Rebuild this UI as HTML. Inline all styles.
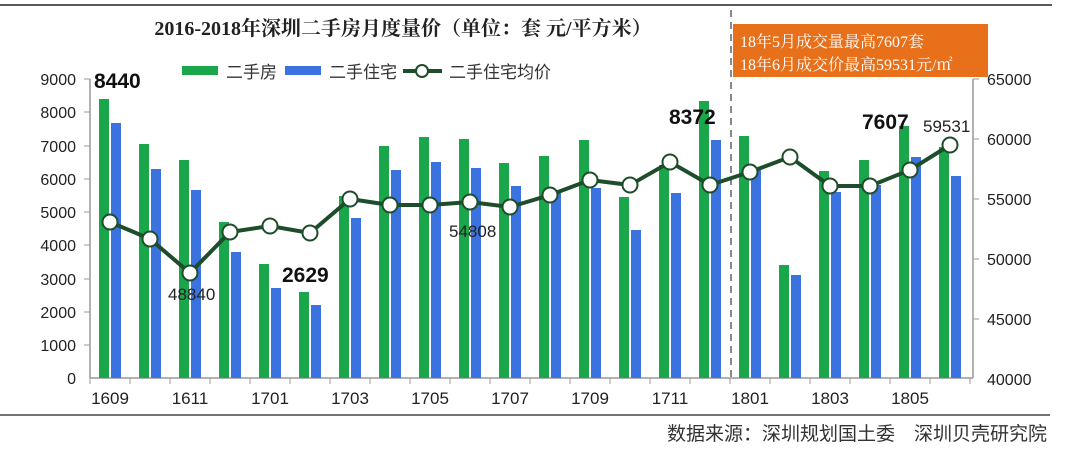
<!DOCTYPE html>
<html><head><meta charset="utf-8"><style>
body{margin:0;background:#fff;}
svg{display:block;font-family:"Liberation Sans","Noto Sans CJK SC",sans-serif;}
</style></head><body>
<svg width="1080" height="454" viewBox="0 0 1080 454" xmlns="http://www.w3.org/2000/svg">
<rect width="1080" height="454" fill="#fff"/>
<line x1="0" y1="5" x2="1052" y2="5" stroke="#222" stroke-width="1.5"/>
<text x="403" y="35" text-anchor="middle" font-family="Liberation Serif,'Noto Serif CJK SC',serif" font-weight="bold" font-size="20" fill="#222">2016-2018年深圳二手房月度量价（单位：套 元/平方米）</text>
<line x1="731" y1="10" x2="731" y2="378" stroke="#888" stroke-width="2" stroke-dasharray="7,5"/>
<rect x="733" y="24" width="255" height="53" fill="#e8701a"/>
<text x="740" y="47" font-family="Liberation Serif,'Noto Serif CJK SC',serif" font-size="16" fill="#fff">18年5月成交量最高7607套</text>
<text x="740" y="70" font-family="Liberation Serif,'Noto Serif CJK SC',serif" font-size="16" fill="#fff">18年6月成交价最高59531元/㎡</text>
<rect x="182" y="66" width="36" height="9" fill="#1aa64a"/>
<text x="226" y="78" font-size="17" fill="#333">二手房</text>
<rect x="285" y="66" width="36" height="9" fill="#3a73e0"/>
<text x="329" y="78" font-size="17" fill="#333">二手住宅</text>
<line x1="403" y1="71" x2="442" y2="71" stroke="#1e4d2b" stroke-width="4"/>
<circle cx="422" cy="71" r="6" fill="#fff" stroke="#1e4d2b" stroke-width="2"/>
<text x="449" y="78" font-size="17" fill="#333">二手住宅均价</text>
<g stroke="#999" stroke-width="1.5">
<line x1="90" y1="79" x2="90" y2="378"/>
<line x1="973" y1="79" x2="973" y2="378"/>
<line x1="90" y1="378" x2="973" y2="378"/>
</g>
<path stroke="#999" stroke-width="1" fill="none" d="M84 79H90M84 112H90M84 146H90M84 179H90M84 212H90M84 245H90M84 279H90M84 312H90M84 345H90M973 79H979M973 139H979M973 199H979M973 259H979M973 319H979M90 378V384M130 378V384M170 378V384M210 378V384M250 378V384M290 378V384M330 378V384M370 378V384M410 378V384M450 378V384M490 378V384M530 378V384M570 378V384M610 378V384M650 378V384M690 378V384M730 378V384M770 378V384M810 378V384M850 378V384M890 378V384M930 378V384M970 378V384"/>
<g font-size="16" fill="#222" text-anchor="end">
<text x="76" y="85">9000</text><text x="76" y="118">8000</text><text x="76" y="152">7000</text><text x="76" y="185">6000</text><text x="76" y="218">5000</text><text x="76" y="251">4000</text><text x="76" y="285">3000</text><text x="76" y="318">2000</text><text x="76" y="351">1000</text><text x="76" y="384">0</text>
</g>
<g font-size="16" fill="#222">
<text x="987" y="85">65000</text><text x="987" y="145">60000</text><text x="987" y="205">55000</text><text x="987" y="265">50000</text><text x="987" y="325">45000</text><text x="987" y="385">40000</text>
</g>
<g fill="#1aa64a">
<rect x="99" y="99" width="10" height="279"/>
<rect x="139" y="144" width="10" height="234"/>
<rect x="179" y="160" width="10" height="218"/>
<rect x="219" y="222" width="10" height="156"/>
<rect x="259" y="264" width="10" height="114"/>
<rect x="299" y="292" width="10" height="86"/>
<rect x="339" y="196" width="10" height="182"/>
<rect x="379" y="146" width="10" height="232"/>
<rect x="419" y="137" width="10" height="241"/>
<rect x="459" y="139" width="10" height="239"/>
<rect x="499" y="163" width="10" height="215"/>
<rect x="539" y="156" width="10" height="222"/>
<rect x="579" y="140" width="10" height="238"/>
<rect x="619" y="197" width="10" height="181"/>
<rect x="659" y="165" width="10" height="213"/>
<rect x="699" y="101" width="10" height="277"/>
<rect x="739" y="136" width="10" height="242"/>
<rect x="779" y="265" width="10" height="113"/>
<rect x="819" y="171" width="10" height="207"/>
<rect x="859" y="160" width="10" height="218"/>
<rect x="899" y="126" width="10" height="252"/>
<rect x="939" y="147" width="10" height="231"/>
</g>
<g fill="#3a73e0">
<rect x="111" y="123" width="10" height="255"/>
<rect x="151" y="169" width="10" height="209"/>
<rect x="191" y="190" width="10" height="188"/>
<rect x="231" y="252" width="10" height="126"/>
<rect x="271" y="288" width="10" height="90"/>
<rect x="311" y="305" width="10" height="73"/>
<rect x="351" y="218" width="10" height="160"/>
<rect x="391" y="170" width="10" height="208"/>
<rect x="431" y="162" width="10" height="216"/>
<rect x="471" y="168" width="10" height="210"/>
<rect x="511" y="186" width="10" height="192"/>
<rect x="551" y="190" width="10" height="188"/>
<rect x="591" y="188" width="10" height="190"/>
<rect x="631" y="230" width="10" height="148"/>
<rect x="671" y="193" width="10" height="185"/>
<rect x="711" y="140" width="10" height="238"/>
<rect x="751" y="170" width="10" height="208"/>
<rect x="791" y="275" width="10" height="103"/>
<rect x="831" y="192" width="10" height="186"/>
<rect x="871" y="185" width="10" height="193"/>
<rect x="911" y="157" width="10" height="221"/>
<rect x="951" y="176" width="10" height="202"/>
</g>
<polyline fill="none" stroke="#1e4d2b" stroke-width="4" points="110,222 150,239 190,273 230,232 270,226 310,233 350,199 390,205 430,205 470,202 510,207 550,195 590,180 630,185 670,162 710,185 750,172 790,157 830,186 870,186 910,170 950,145"/>
<g fill="#fff" stroke="#1e4d2b" stroke-width="2">
<circle cx="110" cy="222" r="7.5"/><circle cx="150" cy="239" r="7.5"/><circle cx="190" cy="273" r="7.5"/><circle cx="230" cy="232" r="7.5"/><circle cx="270" cy="226" r="7.5"/><circle cx="310" cy="233" r="7.5"/><circle cx="350" cy="199" r="7.5"/><circle cx="390" cy="205" r="7.5"/><circle cx="430" cy="205" r="7.5"/><circle cx="470" cy="202" r="7.5"/><circle cx="510" cy="207" r="7.5"/><circle cx="550" cy="195" r="7.5"/><circle cx="590" cy="180" r="7.5"/><circle cx="630" cy="185" r="7.5"/><circle cx="670" cy="162" r="7.5"/><circle cx="710" cy="185" r="7.5"/><circle cx="750" cy="172" r="7.5"/><circle cx="790" cy="157" r="7.5"/><circle cx="830" cy="186" r="7.5"/><circle cx="870" cy="186" r="7.5"/><circle cx="910" cy="170" r="7.5"/><circle cx="950" cy="145" r="7.5"/>
</g>
<g font-size="17" fill="#222" text-anchor="middle">
<text x="110" y="404">1609</text><text x="190" y="404">1611</text><text x="270" y="404">1701</text><text x="350" y="404">1703</text><text x="430" y="404">1705</text><text x="510" y="404">1707</text><text x="590" y="404">1709</text><text x="670" y="404">1711</text><text x="750" y="404">1801</text><text x="830" y="404">1803</text><text x="910" y="404">1805</text>
</g>
<g font-size="21" font-weight="bold" fill="#111">
<text x="94" y="88">8440</text><text x="282" y="282">2629</text><text x="669" y="124">8372</text><text x="862" y="129">7607</text>
</g>
<g font-size="17" fill="#222">
<text x="168" y="300">48840</text><text x="449" y="237">54808</text><text x="923" y="132">59531</text>
</g>
<line x1="0" y1="415" x2="1050" y2="415" stroke="#222" stroke-width="1.2"/>
<text x="1047" y="440" text-anchor="end" font-size="19" fill="#333">数据来源：深圳规划国土委　深圳贝壳研究院</text>
</svg>
</body></html>
